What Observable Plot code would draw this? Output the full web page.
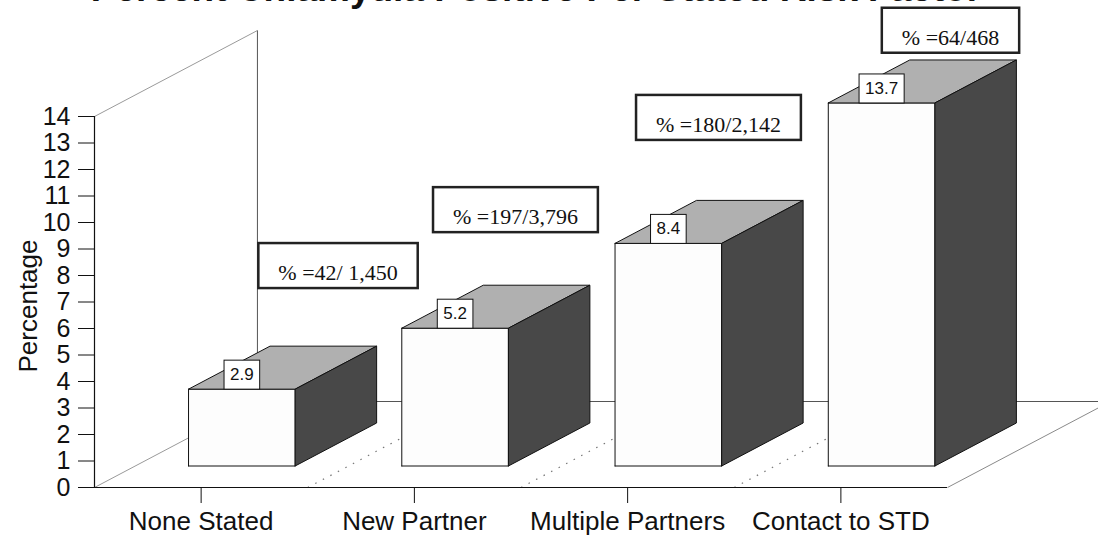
<!DOCTYPE html>
<html>
<head>
<meta charset="utf-8">
<script src="https://cdn.jsdelivr.net/npm/d3@7"></script>
<script src="https://cdn.jsdelivr.net/npm/@observablehq/plot@0.6"></script>
<style>
  html, body { margin: 0; padding: 0; background: #fff; }
  #chart svg { display: block; }
</style>
</head>
<body>
<div id="chart"></div>
<script>
// ---- data ----
const title = "Percent Chlamydia Positive Per Stated Risk Factor";
const categories = ["None Stated", "New Partner", "Multiple Partners", "Contact to STD"];
const percentages = [2.9, 5.2, 8.4, 13.7];
const ratioLabels = ["% =42/ 1,450", "% =197/3,796", "% =180/2,142", "% =64/468"];
const yTicks = [0, 1, 2, 3, 4, 5, 6, 7, 8, 9, 10, 11, 12, 13, 14];
const yLabel = "Percentage";

// ---- layout ----
// oblique projection: depth 0 is the front floor edge, depth 1 the back wall
const depthX = 0.764;   // category units per unit of depth
const depthY = 3.245;   // percentage units per unit of depth
const halfWidth = 0.25, front = 0.25, back = 0.75;
const proj = (x, y, d) => ({x: x + d * depthX, y: y + d * depthY});
const xMin = -0.5, xMax = 3.5, yMax = 14;

// centres of the ratio boxes, in chart units
const notePos = [[0.642, 8.32], [1.474, 10.43], [2.426, 13.91], [3.514, 17.2]];

const faceFill = {front: "#fdfdfd", top: "#b0b0b0", side: "#484848"};

// polygons for each bar: front, top and right side faces
const faces = [];
percentages.forEach((v, i) => {
  const L = i - halfWidth, R = i + halfWidth;
  const poly = (face, pts) =>
    pts.concat([pts[0]]).forEach(p => faces.push({id: `${i}-${face}`, face, x: p.x, y: p.y}));
  poly("front", [proj(L, 0, front), proj(R, 0, front), proj(R, v, front), proj(L, v, front)]);
  poly("top", [proj(L, v, front), proj(R, v, front), proj(R, v, back), proj(L, v, back)]);
  poly("side", [proj(R, 0, front), proj(R, 0, back), proj(R, v, back), proj(R, v, front)]);
});

const backCorner = proj(xMin, 0, 1);
const wallLines = [
  {x1: xMin, y1: 0, x2: backCorner.x, y2: backCorner.y, stroke: "#9a9a9a"},
  {x1: xMin, y1: yMax, x2: backCorner.x, y2: backCorner.y + yMax, stroke: "#9a9a9a"},
  {x1: backCorner.x, y1: backCorner.y, x2: backCorner.x, y2: backCorner.y + yMax, stroke: "#555"},
  {x1: backCorner.x, y1: backCorner.y, x2: xMax + depthX, y2: backCorner.y, stroke: "#555"},
  {x1: xMax, y1: 0, x2: xMax + depthX, y2: depthY, stroke: "#8a8a8a"}
];
const dividers = [0.5, 1.5, 2.5].map(b => ({x1: b, y1: 0, x2: b + depthX, y2: depthY}));

const faceMark = face => Plot.line(faces.filter(d => d.face === face), {
  x: "x", y: "y", z: "id",
  fill: faceFill[face], stroke: "#111", strokeWidth: 1, strokeLinejoin: "miter"
});

const valueText = d => d.toFixed(1);

const plot = Plot.plot({
  width: 1098,
  height: 546,
  marginLeft: 94,
  marginRight: 151,
  marginTop: 116,
  marginBottom: 59,
  style: {fontFamily: "'Liberation Sans', Arial, sans-serif", fontSize: "25px", color: "#111", background: "#fff"},
  x: {type: "linear", domain: [xMin, xMax]},
  y: {type: "linear", domain: [0, yMax]},
  marks: [
    Plot.link(wallLines, {x1: "x1", y1: "y1", x2: "x2", y2: "y2", stroke: "stroke", strokeWidth: 1}),
    Plot.link(dividers, {x1: "x1", y1: "y1", x2: "x2", y2: "y2", stroke: "#777", strokeWidth: 1.2, strokeDasharray: "1.5,7"}),
    Plot.ruleY([0], {x1: xMin, x2: xMax, stroke: "#111", strokeWidth: 1.2}),
    Plot.ruleX([xMin], {y1: 0, y2: yMax, stroke: "#111", strokeWidth: 1.2}),
    Plot.axisY({ticks: yTicks, tickSize: 16, tickPadding: 8, fontSize: 25, label: null}),
    Plot.axisX({ticks: [0, 1, 2, 3], tickFormat: i => categories[i], tickSize: 16, tickPadding: 8, fontSize: 26, label: null}),
    Plot.text([yLabel], {frameAnchor: "left", textAnchor: "middle", dx: -66, dy: 4, rotate: -90, fontSize: 26}),
    faceMark("front"),
    faceMark("top"),
    faceMark("side"),
    Plot.text(percentages, {
      x: (d, i) => i + front * depthX,
      y: (d, i) => d + front * depthY,
      text: valueText,
      fontSize: 17, lineAnchor: "bottom", dy: -9
    }),
    Plot.text(ratioLabels, {
      x: (d, i) => notePos[i][0],
      y: (d, i) => notePos[i][1],
      text: d => d,
      fontFamily: "'Liberation Serif', 'Times New Roman', serif",
      fontSize: 22, dy: 6
    }),
    Plot.text([title], {frameAnchor: "top", dx: 15, dy: -116, fontSize: 37, fontWeight: "bold", lineAnchor: "bottom"})
  ]
});

document.getElementById("chart").appendChild(plot);

// framed boxes behind the label texts
function frameTexts(strings, pad, stroke, strokeWidth) {
  plot.querySelectorAll("text").forEach(t => {
    if (!strings.includes(t.textContent)) return;
    const bb = t.getBBox();
    const r = document.createElementNS("http://www.w3.org/2000/svg", "rect");
    r.setAttribute("x", bb.x - pad.l);
    r.setAttribute("y", bb.y - pad.t);
    r.setAttribute("width", bb.width + pad.l + pad.r);
    r.setAttribute("height", bb.height + pad.t + pad.b);
    r.setAttribute("fill", "#fff");
    r.setAttribute("stroke", stroke);
    r.setAttribute("stroke-width", strokeWidth);
    const tr = t.getAttribute("transform");
    if (tr) r.setAttribute("transform", tr);
    t.parentNode.insertBefore(r, t);
  });
}
frameTexts(percentages.map(valueText), {l: 6, r: 6, t: 5, b: 5}, "#111", 1);
frameTexts(ratioLabels, {l: 20, r: 20, t: 17, b: 3}, "#222", 2.5);
</script>
</body>
</html>
